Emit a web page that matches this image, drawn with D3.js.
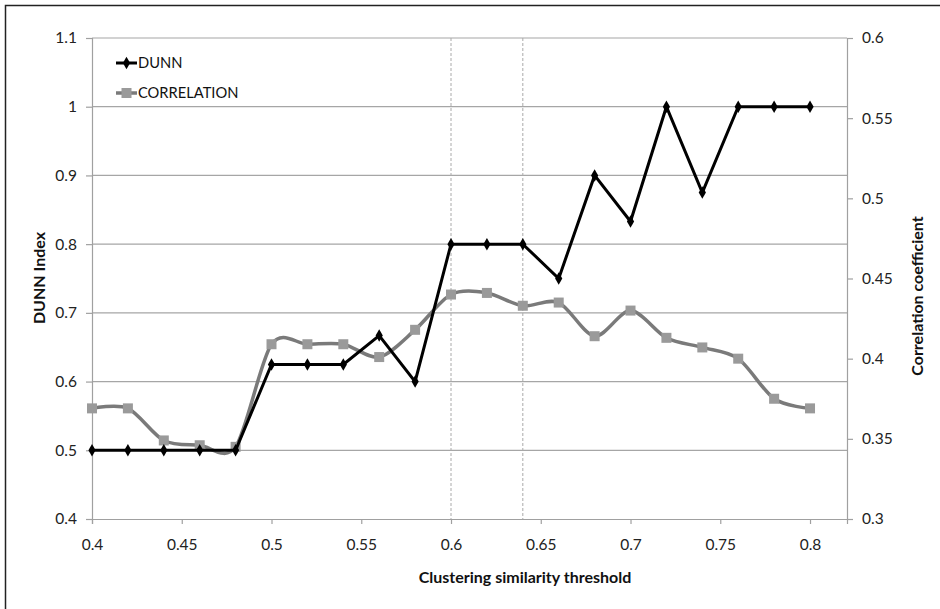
<html>
<head>
<meta charset="utf-8">
<title>DUNN vs Correlation</title>
<style>
  body { margin: 0; background: #fff; }
  text { font-family: Lato, "Open Sans", sans-serif; }
</style>
<script src="https://d3js.org/d3.v7.min.js"></script>
</head>
<body>
<svg width="940" height="609"></svg>
<script>
var thresholds = [0.40,0.42,0.44,0.46,0.48,0.50,0.52,0.54,0.56,0.58,0.60,0.62,0.64,0.66,0.68,0.70,0.72,0.74,0.76,0.78,0.80];
var dunn = [0.5,0.5,0.5,0.5,0.5,0.625,0.625,0.625,0.667,0.6,0.8,0.8,0.8,0.75,0.9,0.833,1.0,0.875,1.0,1.0,1.0];
var correlation = [0.369,0.369,0.349,0.346,0.345,0.409,0.409,0.409,0.401,0.418,0.440,0.441,0.433,0.435,0.414,0.430,0.413,0.407,0.400,0.375,0.369];
var xTicks = [0.4,0.45,0.5,0.55,0.6,0.65,0.7,0.75,0.8];
var leftTicks = [0.4,0.5,0.6,0.7,0.8,0.9,1,1.1];
var rightTicks = [0.3,0.35,0.4,0.45,0.5,0.55,0.6];
var markLines = [0.6,0.64];

var svg = d3.select("svg"),
    margin = {top: 38, right: 93, bottom: 90, left: 92},
    width = +svg.attr("width") - margin.left - margin.right,
    height = +svg.attr("height") - margin.top - margin.bottom;

// outer frame
svg.append("rect").attr("x",5.5).attr("y",5.5).attr("width",940).attr("height",610)
    .attr("fill","none").attr("stroke","#222").attr("stroke-width",1.5);

var g = svg.append("g").attr("transform", `translate(${margin.left},${margin.top})`);

var x = d3.scaleLinear().domain([0.4,0.8206]).range([0,width]);
var yL = d3.scaleLinear().domain([0.4,1.1]).range([height,0]);
var yR = d3.scaleLinear().domain([0.3,0.6]).range([height,0]);

// gridlines
g.append("g").selectAll("line").data(leftTicks.slice(1)).enter().append("line")
    .attr("x1",0).attr("x2",width)
    .attr("y1",d=>yL(d)).attr("y2",d=>yL(d))
    .attr("stroke","#a6a6a6").attr("stroke-width",1.2);

// dashed verticals
g.append("g").selectAll("line").data(markLines).enter().append("line")
    .attr("x1",d=>x(d)).attr("x2",d=>x(d))
    .attr("y1",0).attr("y2",height)
    .attr("stroke","#aaa").attr("stroke-width",1).attr("stroke-dasharray","3,2");

function styleAxis(sel){
  sel.selectAll("path, line").attr("stroke","#a0a0a0").attr("stroke-width",1.2);
  sel.selectAll("text").attr("fill","#222").style("font-size","15.5px").style("font-family","Lato, 'Open Sans', sans-serif");
}

g.append("g").attr("transform",`translate(0,${height})`)
  .call(d3.axisBottom(x).tickValues(xTicks).tickFormat(d3.format("")).tickSizeOuter(0).tickSize(5).tickPadding(15))
  .call(styleAxis);

g.append("g")
  .call(d3.axisLeft(yL).tickValues(leftTicks).tickFormat(d3.format("")).tickSizeOuter(0).tickSize(6).tickPadding(9))
  .call(styleAxis);

g.append("g").attr("transform",`translate(${width},0)`)
  .call(d3.axisRight(yR).tickValues(rightTicks).tickFormat(d3.format("")).tickSizeOuter(0).tickSize(6).tickPadding(9))
  .call(styleAxis);

// correlation (smoothed)
var corrLine = d3.line().x((d,i)=>x(thresholds[i])).y(d=>yR(d)).curve(d3.curveCardinal.tension(0.1));
g.append("path").datum(correlation).attr("d",corrLine)
  .attr("fill","none").attr("stroke","#7a7a7a").attr("stroke-width",3.5);
g.append("g").selectAll("rect").data(correlation).enter().append("rect")
  .attr("x",(d,i)=>x(thresholds[i])-5).attr("y",d=>yR(d)-5)
  .attr("width",10).attr("height",10).attr("fill","#9a9a9a");

// dunn
var dunnLine = d3.line().x((d,i)=>x(thresholds[i])).y(d=>yL(d));
g.append("path").datum(dunn).attr("d",dunnLine)
  .attr("fill","none").attr("stroke","#000").attr("stroke-width",3);
var diamond = d3.symbol().type(d3.symbolDiamond).size(45);
g.append("g").selectAll("path").data(dunn).enter().append("path")
  .attr("d",diamond)
  .attr("transform",(d,i)=>`translate(${x(thresholds[i])},${yL(d)})`)
  .attr("fill","#000");

// legend
var legend = svg.append("g");
legend.append("line").attr("x1",116).attr("x2",137).attr("y1",63).attr("y2",63)
  .attr("stroke","#000").attr("stroke-width",3);
legend.append("path").attr("d",diamond).attr("transform","translate(126.5,63)").attr("fill","#000");
legend.append("text").attr("x",138).attr("y",63).attr("dy","0.35em").text("DUNN")
  .style("font-size","14.7px").attr("fill","#111");
legend.append("line").attr("x1",116).attr("x2",137).attr("y1",93).attr("y2",93)
  .attr("stroke","#7a7a7a").attr("stroke-width",3.5);
legend.append("rect").attr("x",121.5).attr("y",88).attr("width",10).attr("height",10).attr("fill","#9a9a9a");
legend.append("text").attr("x",138).attr("y",93).attr("dy","0.35em").text("CORRELATION")
  .style("font-size","14.7px").attr("fill","#111");

// axis titles
svg.append("text").attr("x",525).attr("y",583).attr("text-anchor","middle")
  .style("font-size","16px").style("font-weight","bold").attr("fill","#111")
  .text("Clustering similarity threshold");
svg.append("text").attr("transform","translate(45,278) rotate(-90)").attr("text-anchor","middle")
  .style("font-size","16px").style("font-weight","bold").attr("fill","#111")
  .text("DUNN Index");
svg.append("text").attr("transform","translate(923,296) rotate(-90)").attr("text-anchor","middle")
  .style("font-size","16px").style("font-weight","bold").attr("fill","#111")
  .text("Correlation coefficient");
</script>
</body>
</html>
